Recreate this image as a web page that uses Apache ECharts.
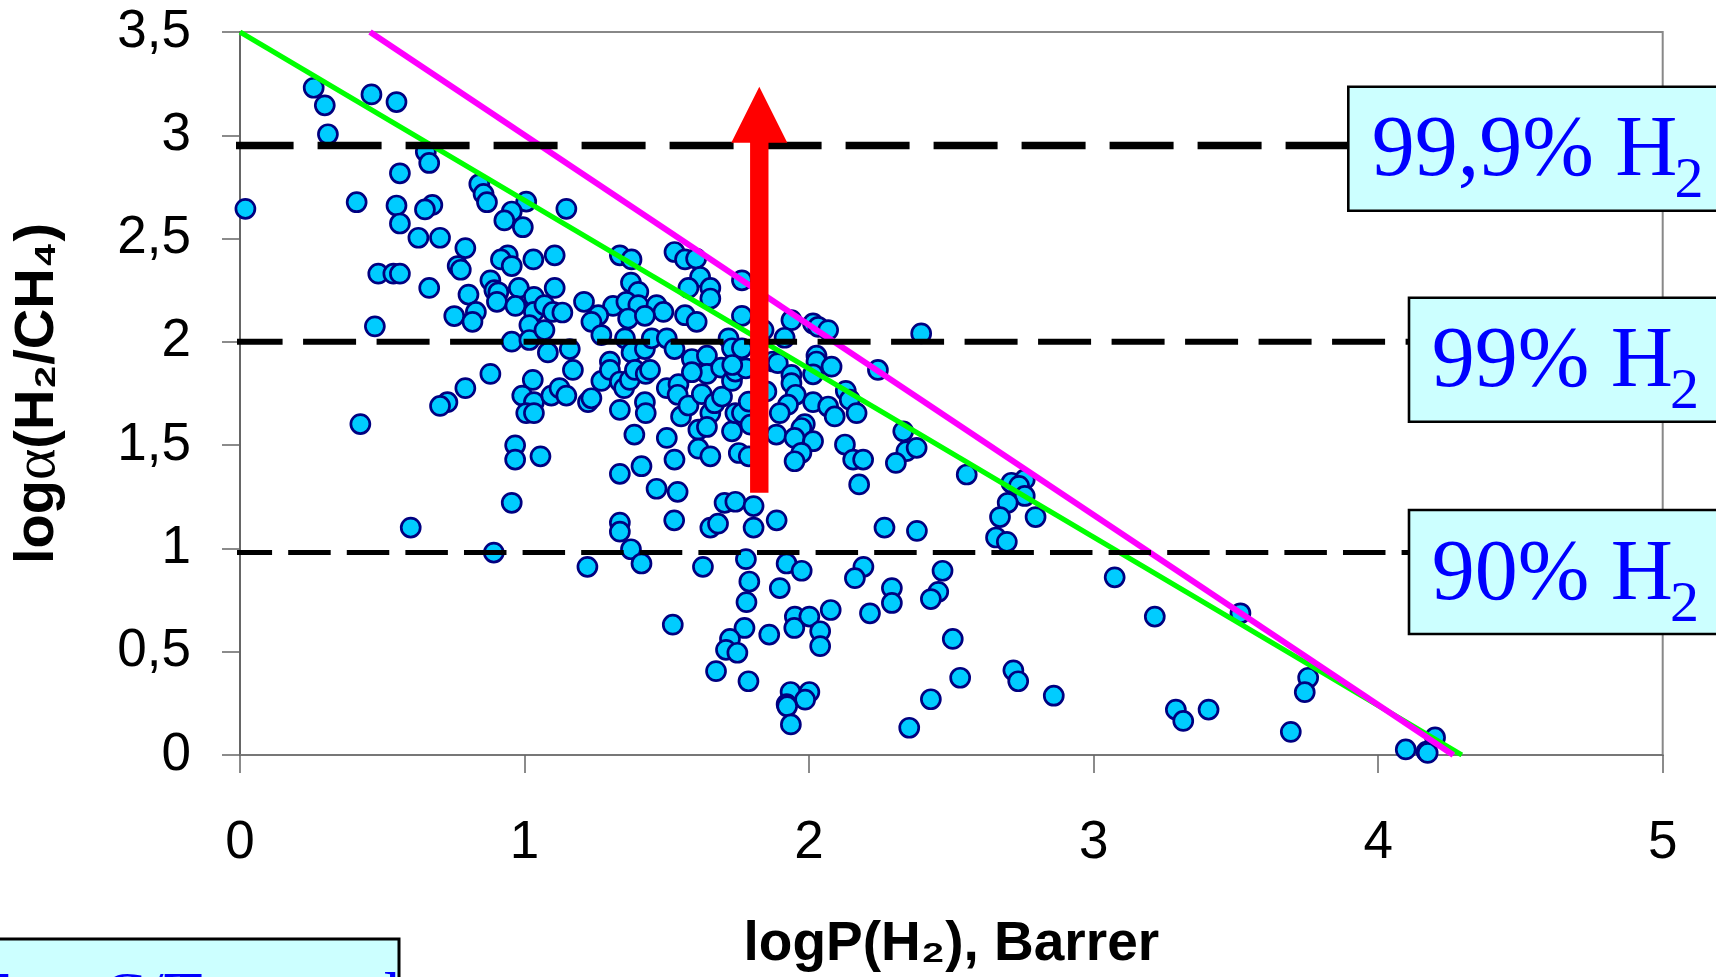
<!DOCTYPE html>
<html>
<head>
<meta charset="utf-8">
<script src="https://cdn.jsdelivr.net/npm/echarts@6/dist/echarts.min.js"></script>
<style>
html,body{margin:0;padding:0;background:#fff;}
#chart{width:1716px;height:977px;}
</style>
</head>
<body>
<div id="chart"></div>
<script>
// ---------- DATA ----------
const xTickValues = [0, 1, 2, 3, 4, 5];
const yTickValues = [0, 0.5, 1, 1.5, 2, 2.5, 3, 3.5];

const points = [
[0.259,3.230],[0.298,3.145],[0.309,3.005],[0.462,3.198],[0.550,3.161],
[0.653,2.920],[0.665,2.866],[0.562,2.816],[0.019,2.644],[0.410,2.676],[0.550,2.660],[0.562,2.573],[0.676,2.663],[0.650,2.641],
[0.841,2.764],[0.856,2.716],[0.868,2.676],[1.006,2.679],[1.147,2.644],[0.955,2.631],[0.929,2.588],[0.994,2.555],
[0.627,2.504],[0.703,2.504],[0.792,2.454],[0.765,2.367],[0.776,2.349],[0.941,2.419],[0.917,2.399],[0.955,2.367],[1.031,2.399],[1.106,2.419],
[0.486,2.330],[0.539,2.330],[0.562,2.330],[0.665,2.261],[0.803,2.229],[0.880,2.298],[0.894,2.250],[0.908,2.240],[0.903,2.194],
[0.980,2.261],[1.106,2.261],[1.033,2.218],[0.968,2.174],[1.033,2.145],[1.070,2.178],[1.100,2.145],[1.133,2.142],[1.209,2.194],
[0.753,2.125],[0.829,2.145],[0.817,2.097],[0.474,2.075],[1.017,2.081],
[1.335,2.419],[1.376,2.399],[1.527,2.435],[1.564,2.399],[1.603,2.403],[1.617,2.314],[1.576,2.261],[1.653,2.261],[1.653,2.210],[1.764,2.298],
[1.374,2.287],[1.400,2.242],[1.311,2.174],[1.358,2.194],[1.400,2.178],[1.464,2.178],[1.488,2.145],[1.259,2.129],[1.235,2.097],[1.364,2.113],[1.423,2.126],[1.564,2.129],[1.605,2.097],[1.764,2.126],
[0.955,2.001],[1.017,2.009],[1.082,1.949],[1.159,1.965],[1.070,2.057],[1.270,2.033],[1.353,2.017],[1.376,1.949],[1.423,1.965],[1.447,2.017],[1.500,2.017],[1.527,1.965],[1.717,2.017],[1.729,1.969],[1.764,1.969],
[0.880,1.845],[0.792,1.776],[0.729,1.708],[0.703,1.690],[0.423,1.602],
[1.029,1.816],[0.992,1.740],[1.033,1.708],[1.006,1.655],[1.033,1.655],[1.094,1.740],[1.123,1.776],[1.147,1.740],[1.170,1.864],[1.223,1.708],[1.235,1.727],[1.270,1.811],[1.300,1.904],[1.300,1.864],[1.335,1.808],[1.350,1.776],[1.370,1.816],[1.335,1.671],[1.388,1.864],[1.426,1.845],[1.441,1.864],[1.423,1.708],[1.426,1.655],[1.386,1.551],[1.500,1.535],[1.500,1.776],[1.541,1.795],[1.538,1.744],[1.550,1.639],[1.576,1.692],[1.588,1.917],[1.641,1.933],[1.641,1.845],[1.588,1.853],[1.623,1.747],[1.653,1.655],[1.668,1.703],[1.694,1.735],[1.611,1.575],[1.641,1.588],[1.611,1.483],[1.653,1.446],[1.691,1.875],[1.729,1.811],[1.741,1.856],[1.729,1.567],[1.741,1.655],[1.764,1.655],[1.753,1.462],[1.788,1.711],[1.794,1.599],[1.788,1.446],
[1.527,1.430],[1.411,1.398],[1.335,1.361],[0.967,1.499],[0.967,1.430],[1.056,1.446],[0.955,1.221],[1.464,1.289],[1.538,1.274],[1.703,1.221],[1.741,1.226],[1.805,1.205],[0.600,1.101],[1.335,1.125],[1.335,1.081],[1.526,1.136],[1.653,1.101],[1.680,1.120],[1.805,1.101],[0.892,0.980],[1.374,0.996],[1.221,0.911],[1.411,0.927],[1.627,0.911],[1.778,0.948],[1.790,0.840],[1.780,0.740],
[1.840,2.057],[1.778,1.872],[1.730,1.888],
[1.938,2.105],[2.014,2.089],[2.032,2.073],[2.067,2.057],[1.914,2.020],[2.394,2.041],[1.873,1.905],[1.890,1.897],[2.026,1.933],[2.026,1.905],[2.079,1.880],[2.014,1.843],[2.242,1.864],[1.938,1.840],[1.938,1.800],[1.953,1.744],[1.850,1.760],[1.926,1.696],[1.897,1.655],[2.014,1.708],[2.067,1.687],[2.090,1.639],[2.129,1.763],[2.143,1.720],[2.167,1.655],[1.985,1.602],[1.973,1.583],[1.885,1.551],[1.949,1.535],[2.014,1.519],[2.126,1.503],[1.973,1.463],[1.949,1.422],[2.155,1.430],[2.190,1.430],[2.331,1.567],[2.342,1.471],[2.378,1.487],[2.305,1.414],
[1.521,0.631],[1.773,0.615],[1.722,0.562],[1.708,0.509],[1.748,0.495],[1.673,0.406],[1.787,0.357],
[1.886,1.136],[2.176,1.310],[2.265,1.101],[2.379,1.085],[2.554,1.358],[1.921,0.927],[1.974,0.892],[1.897,0.808],[1.950,0.670],[2.001,0.670],[1.948,0.615],[2.039,0.599],[2.039,0.527],[2.076,0.702],[1.860,0.583],[1.935,0.305],[2.001,0.305],[1.986,0.268],[1.921,0.246],[1.923,0.236],[1.936,0.148],[2.191,0.911],[2.161,0.856],[2.291,0.808],[2.291,0.736],[2.214,0.686],[2.469,0.892],[2.454,0.790],[2.428,0.755],[2.505,0.562],[2.531,0.374],[2.428,0.270],[2.352,0.132],[2.718,0.410],[2.735,0.357],
[2.711,1.318],[2.758,1.334],[2.738,1.303],[2.758,1.254],[2.698,1.221],[2.671,1.152],[2.796,1.152],[2.657,1.053],[2.695,1.032],
[3.074,0.860],[3.215,0.670],[3.516,0.686],[2.860,0.287],[3.289,0.220],[3.315,0.165],[3.404,0.220],[3.754,0.374],[3.742,0.304],[3.693,0.112],[4.097,0.027],[4.170,0.016],[4.200,0.085],[4.174,0.010]
];

// upper-bound lines (two end points each)
const greenLine = [[0, 3.5], [4.294, 0]];
const magentaLine = [[0.457, 3.5], [4.264, 0]];

// H2 purity levels (dashed lines) and their labels
const purityY = [2.95, 2.0, 0.98];
const purityStartX = -0.0366;
const purityEndX = [3.896, 4.109, 4.109];
const purityLabels = ['99,9% H', '99% H', '90% H'];
const puritySub = '2';

// red arrow: x, from y, to y (tip)
const arrowData = [[1.825, 1.27, 3.235]];

// caption of the (cut-off) box in the lower-left corner
const cornerCaption = 'Fe,   C/T rmo tal';

// ---------- CHART ----------
const chart = echarts.init(document.getElementById('chart'), null, {renderer: 'canvas'});

const SANS = '"Liberation Sans", Arial, sans-serif';
const SERIF = '"Liberation Serif", "Times New Roman", serif';

function fmt(v) { return String(v).replace('.', ','); }

const dashStyles = [
  {width: 7.5, type: [64, 24]},
  {width: 6, type: [53, 20.5]},
  {width: 5, type: [42.5, 16.1]}
];

const dashedSeries = purityY.map((y, i) => ({
  type: 'line',
  data: [[purityStartX, y], [purityEndX[i], y]],
  showSymbol: false,
  symbol: 'none',
  clip: false,
  silent: true,
  z: 4,
  lineStyle: {color: '#000000', width: dashStyles[i].width, type: dashStyles[i].type, cap: 'butt'}
}));

// measure text widths for subscript placement
const mctx = document.createElement('canvas').getContext('2d');
const BOX_FONT = 86, SUB_FONT = 58;
mctx.font = BOX_FONT + 'px ' + SERIF;

const boxLefts = [1348.3, 1409, 1409];
const boxTops = [86.7, 297.7, 510];
const boxTextX = [1371.7, 1431.7, 1431.7];
const graphics = [];
purityLabels.forEach((lab, i) => {
  const top = boxTops[i];
  const base = top + 95;
  const w = mctx.measureText(lab).width;
  graphics.push({
    type: 'rect', z: 20,
    shape: {x: boxLefts[i], y: top, width: 420, height: 124},
    style: {fill: '#CCFFFF', stroke: '#000000', lineWidth: 2.6}
  });
  graphics.push({
    type: 'text', z: 21,
    style: {text: lab, x: boxTextX[i], y: base - 0.3375 * BOX_FONT, fill: '#0000FF',
      font: BOX_FONT + 'px ' + SERIF, align: 'left', verticalAlign: 'middle'}
  });
  graphics.push({
    type: 'text', z: 21,
    style: {text: puritySub, x: boxTextX[i] + w - 3, y: base + 20 - 0.3375 * SUB_FONT, fill: '#0000FF',
      font: SUB_FONT + 'px ' + SERIF, align: 'left', verticalAlign: 'middle'}
  });
});
// partially visible box at bottom-left
graphics.push({
  type: 'rect', z: 20,
  shape: {x: -5, y: 939, width: 404, height: 80},
  style: {fill: '#CCFFFF', stroke: '#000000', lineWidth: 3}
});
graphics.push({
  type: 'text', z: 21,
  style: {text: cornerCaption, x: -25, y: 967, fill: '#0000FF',
    font: '64px ' + SERIF, align: 'left', verticalAlign: 'top'}
});

const option = {
  animation: false,
  backgroundColor: '#ffffff',
  grid: {left: 240, top: 32, right: 53.3, bottom: 219, show: true, borderColor: '#888888', borderWidth: 2, backgroundColor: 'transparent'},
  xAxis: {
    type: 'value', min: 0, max: 5, interval: 1,
    name: 'logP(H₂), Barrer', nameLocation: 'middle', nameGap: 162,
    nameTextStyle: {fontFamily: SANS, fontWeight: 'bold', fontSize: 55, color: '#000'},
    axisLine: {show: true, onZero: false, lineStyle: {color: '#777777', width: 2}},
    axisTick: {show: true, inside: false, length: 18, lineStyle: {color: '#666666', width: 1.5}},
    axisLabel: {margin: 62, fontFamily: SANS, fontSize: 53, color: '#000', formatter: fmt},
    splitLine: {show: false}
  },
  yAxis: {
    type: 'value', min: 0, max: 3.5, interval: 0.5,
    name: '{b|log}{a|α}{b|(H₂/CH₄)}', nameLocation: 'middle', nameGap: 172, nameRotate: 90,
    nameTextStyle: {
      rich: {
        b: {fontFamily: SANS, fontWeight: 'bold', fontSize: 56, color: '#000'},
        a: {fontFamily: SERIF, fontWeight: 'normal', fontSize: 60, color: '#000'}
      }
    },
    axisLine: {show: true, onZero: false, lineStyle: {color: '#666666', width: 2}},
    axisTick: {show: true, inside: false, length: 18, lineStyle: {color: '#666666', width: 1.5}},
    axisLabel: {margin: 49, fontFamily: SANS, fontSize: 53, color: '#000', formatter: fmt},
    splitLine: {show: false}
  },
  series: [
    {
      type: 'scatter', data: points, symbol: 'circle', symbolSize: 19, clip: false, z: 2,
      itemStyle: {color: '#00CCFF', borderColor: '#000080', borderWidth: 2.7, opacity: 1}
    },
    {
      type: 'line', data: greenLine, showSymbol: false, symbol: 'none', z: 3, silent: true,
      lineStyle: {color: '#00FF00', width: 5}
    },
    {
      type: 'line', data: magentaLine, showSymbol: false, symbol: 'none', z: 3, silent: true,
      lineStyle: {color: '#FF00FF', width: 6}
    },
    ...dashedSeries,
    {
      type: 'custom', data: arrowData, z: 6, silent: true,
      renderItem: function (params, api) {
        const base = api.coord([api.value(0), api.value(1)]);
        const tip = api.coord([api.value(0), api.value(2)]);
        const cx = base[0];
        const sw = 9.2, hw = 28, hl = 56;
        return {
          type: 'polygon',
          shape: {points: [
            [cx - sw, base[1]], [cx - sw, tip[1] + hl], [cx - hw, tip[1] + hl],
            [cx, tip[1]], [cx + hw, tip[1] + hl], [cx + sw, tip[1] + hl], [cx + sw, base[1]]
          ]},
          style: {fill: '#FF0000'}
        };
      }
    }
  ],
  graphic: graphics
};

chart.setOption(option);
</script>
</body>
</html>
